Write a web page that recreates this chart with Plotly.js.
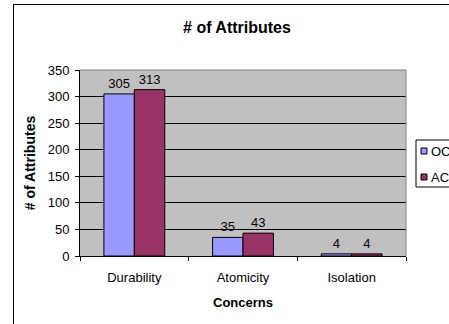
<!DOCTYPE html>
<html>
<head>
<meta charset="utf-8">
<script src="https://cdn.plot.ly/plotly-3.0.1.min.js"></script>
<style>
  html, body { margin: 0; padding: 0; background: #fff; }
  #wrap { position: relative; width: 449px; height: 324px; overflow: hidden; }
  #chart { position: absolute; left: 0; top: 0; width: 520px; height: 324px; }
  #frame { position: absolute; left: 13px; top: 4px; width: 460px; height: 340px;
           border-left: 1px solid #000; border-top: 1px solid #000; pointer-events: none; }
</style>
</head>
<body>
<div id="wrap">
  <div id="chart"></div>
  <div id="frame"></div>
</div>
<script>
// Attribute counts per concern
const categories = ["Durability", "Atomicity", "Isolation"];
const seriesNames = ["OC", "AC"];
const seriesColors = ["#9999FF", "#993366"];
const ocValues = [305, 35, 4];
const acValues = [313, 43, 4];
const yTicks = [0, 50, 100, 150, 200, 250, 300, 350];

const FONT = "Arial, 'Liberation Sans', sans-serif";

// plot area geometry in pixels (used to place the legend box)
const W = 520, H = 324;
const M = { l: 80, r: W - 406, t: 70, b: H - 256 };
const PW = W - M.l - M.r, PH = H - M.t - M.b;
const px = v => (v - M.l) / PW;
const py = v => (H - M.b - v) / PH;

function barTrace(name, values, color) {
  return {
    type: "bar",
    name: name,
    x: categories,
    y: values,
    text: values.map(String),
    textposition: "outside",
    textfont: { family: FONT, size: 13, color: "#000" },
    cliponaxis: false,
    marker: { color: color, line: { color: "#000", width: 1 } },
    hoverinfo: "none"
  };
}

const data = [
  barTrace(seriesNames[0], ocValues, seriesColors[0]),
  barTrace(seriesNames[1], acValues, seriesColors[1])
];

// legend drawn as a boxed key at the right of the plot
const legendShapes = [
  { type: "rect", xref: "paper", yref: "paper",
    x0: px(416), x1: px(510), y0: py(187), y1: py(140),
    fillcolor: "#fff", line: { color: "#000", width: 1 }, layer: "above" }
];
const legendRows = [151, 177];
const legendAnn = [];
seriesNames.forEach((name, i) => {
  const cy = legendRows[i];
  legendShapes.push({ type: "rect", xref: "paper", yref: "paper",
    x0: px(421), x1: px(427), y0: py(cy + 3), y1: py(cy - 3),
    fillcolor: seriesColors[i], line: { color: "#000", width: 1 }, layer: "above" });
  legendAnn.push({ xref: "paper", yref: "paper", x: px(428.5), y: py(cy),
    xanchor: "left", yanchor: "middle", showarrow: false, text: name,
    font: { family: FONT, size: 13, color: "#000" } });
});

const layout = {
  width: W,
  height: H,
  margin: M,
  paper_bgcolor: "#fff",
  plot_bgcolor: "#C0C0C0",
  font: { family: FONT, size: 13, color: "#000" },
  title: {
    text: "<b># of Attributes</b>",
    font: { family: FONT, size: 16, color: "#000" },
    xref: "container", x: 237 / W, xanchor: "center",
    yref: "container", y: 1 - 27 / H, yanchor: "middle"
  },
  barmode: "group",
  bargap: 0.44,
  bargroupgap: 0,
  showlegend: false,
  xaxis: {
    type: "category",
    showline: true, linecolor: "#000", linewidth: 1,
    ticks: "outside", ticklen: 4, tickcolor: "#000", tickson: "boundaries",
    showgrid: false,
    ticklabelstandoff: 9,
    tickfont: { family: FONT, size: 13, color: "#000" },
    title: { text: "<b>Concerns</b>", font: { family: FONT, size: 13, color: "#000" }, standoff: 14 },
    fixedrange: true
  },
  yaxis: {
    range: [0, 350],
    tickvals: yTicks,
    ticktext: yTicks.map(String),
    showline: true, linecolor: "#000", linewidth: 1,
    ticks: "outside", ticklen: 4, tickcolor: "#000",
    showgrid: true, gridcolor: "#000", gridwidth: 1,
    zeroline: false,
    ticklabelstandoff: 3,
    tickfont: { family: FONT, size: 13, color: "#000" },
    title: { text: "<b># of Attributes</b>", font: { family: FONT, size: 14, color: "#000" }, standoff: 8 },
    fixedrange: true
  },
  shapes: [
    { type: "line", xref: "paper", yref: "paper", x0: 0, x1: 1, y0: 1, y1: 1,
      line: { color: "#808080", width: 1 }, layer: "above" },
    { type: "line", xref: "paper", yref: "paper", x0: 1, x1: 1, y0: 0, y1: 1,
      line: { color: "#808080", width: 1 }, layer: "above" }
  ].concat(legendShapes),
  annotations: legendAnn
};

Plotly.newPlot("chart", data, layout, { displayModeBar: false, staticPlot: true });
</script>
</body>
</html>
